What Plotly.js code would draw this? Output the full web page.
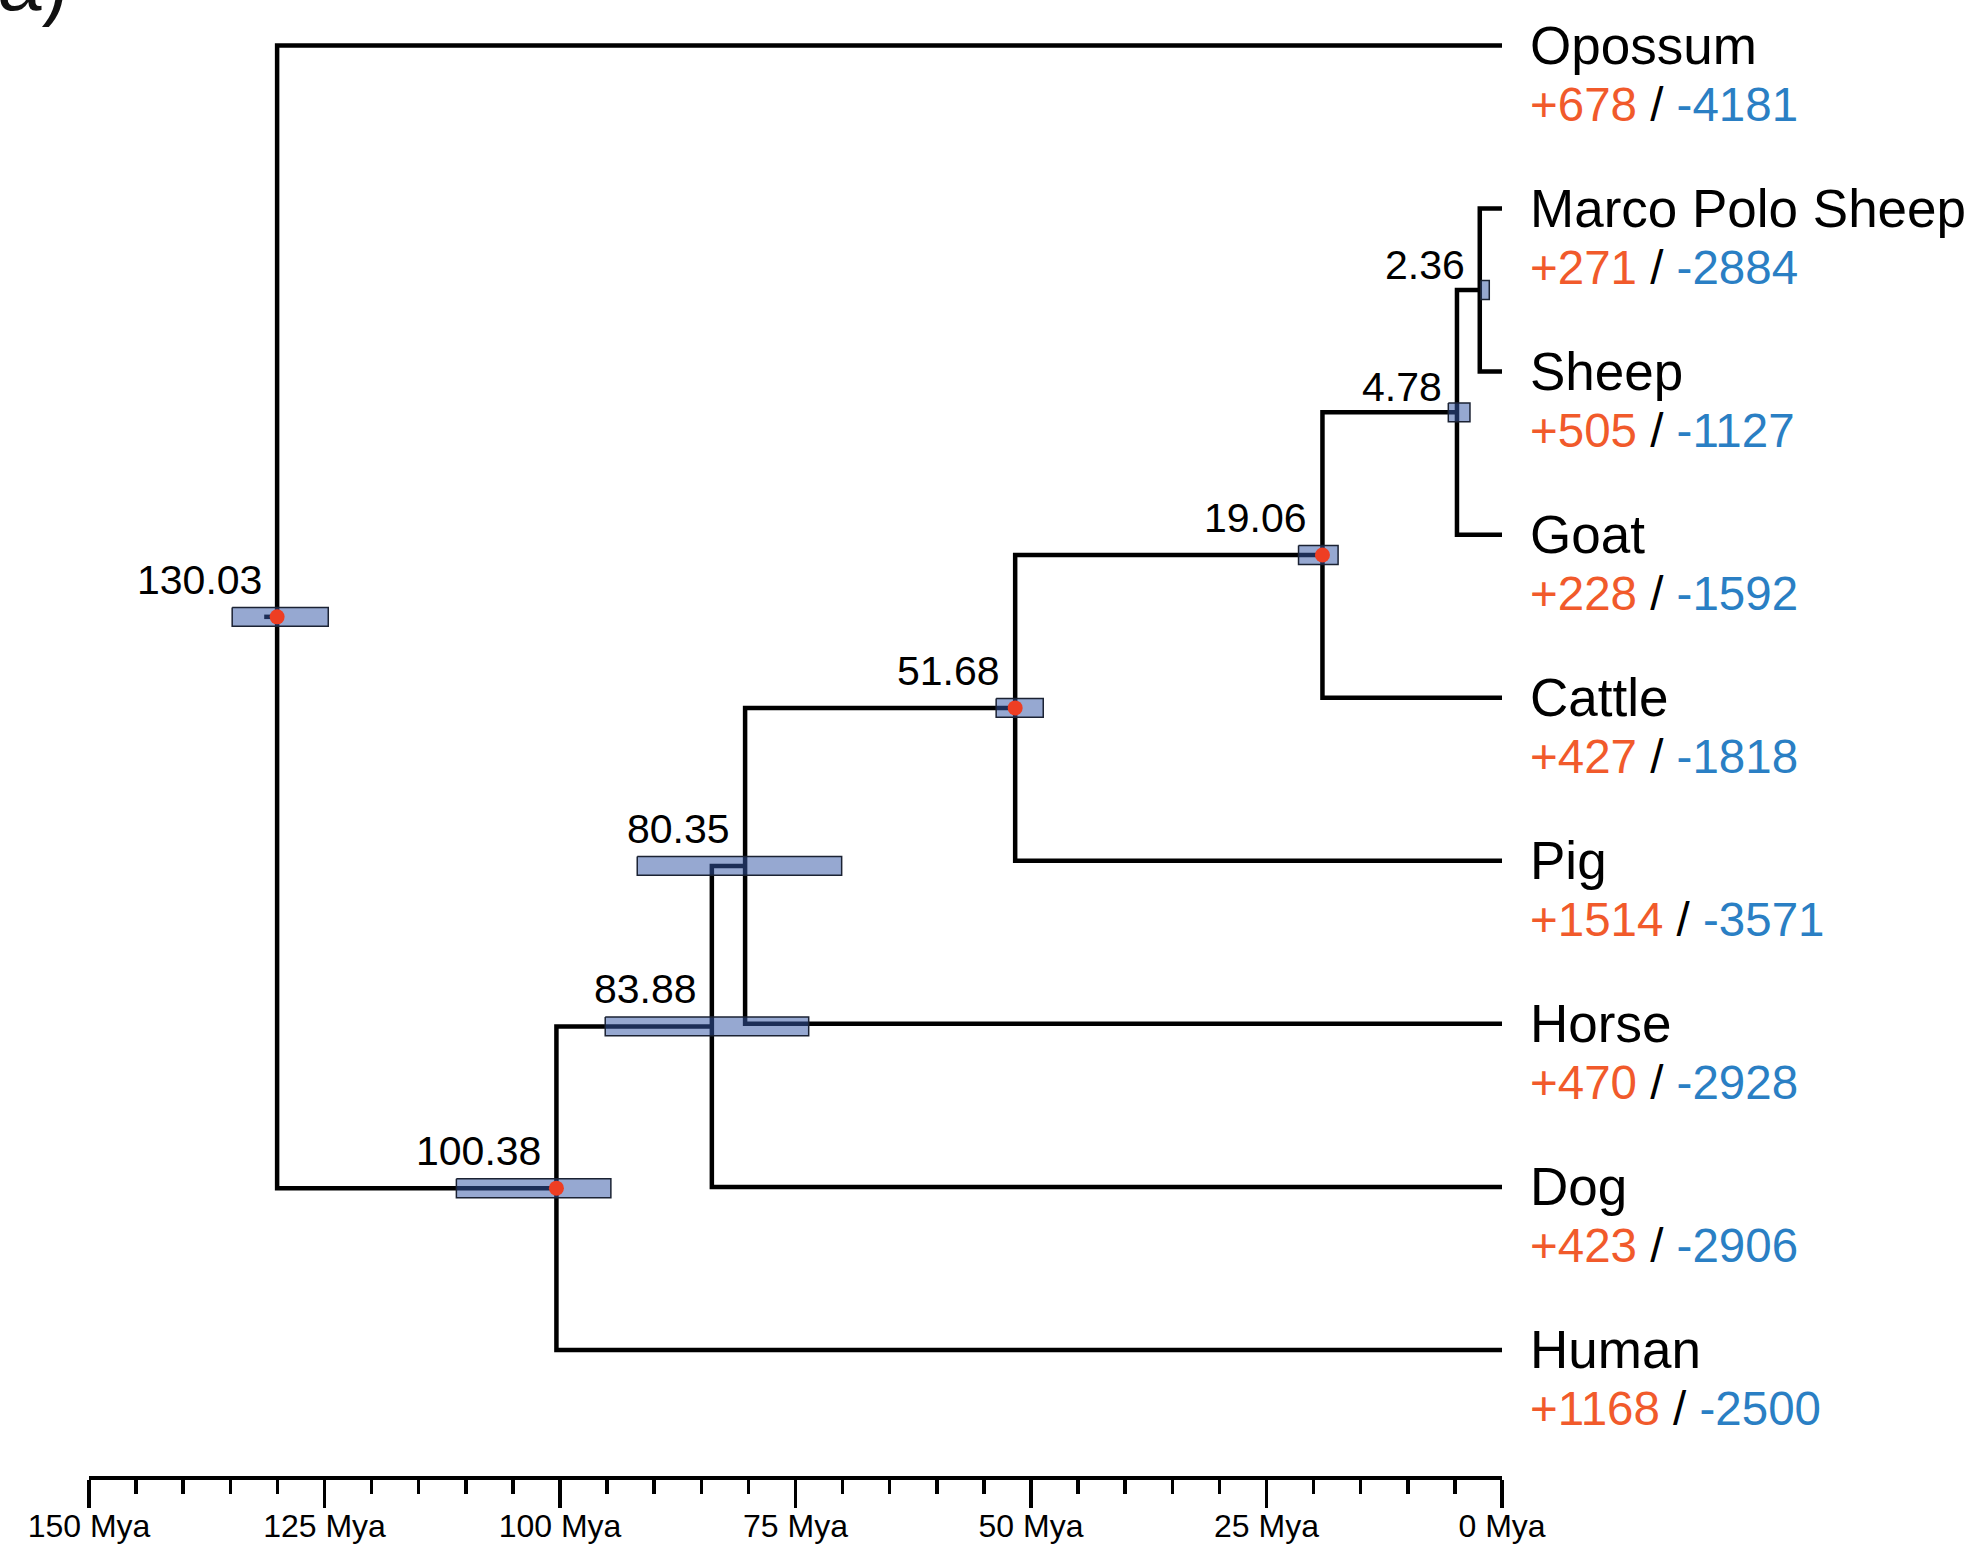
<!DOCTYPE html>
<html><head><meta charset="utf-8">
<script src="https://cdn.plot.ly/plotly-3.0.1.min.js"></script>
<style>html,body{margin:0;padding:0;background:#fff}</style>
</head><body><div id="chart" style="width:1978px;height:1546px"></div>
<script>
// ---- data ----
const tipNames = ["Opossum","Marco Polo Sheep","Sheep","Goat","Cattle","Pig","Horse","Dog","Human"];
const tipGains = [678,271,505,228,427,1514,470,423,1168];
const tipLosses = [4181,2884,1127,1592,1818,3571,2928,2906,2500];
const nodeAges = [130.03,100.38,83.88,80.35,51.68,19.06,4.78,2.36];
const nodeHpdOld = [134.8,111.0,95.2,91.8,53.7,21.6,5.7,2.26];
const nodeHpdYoung = [124.6,94.6,73.6,70.1,48.7,17.4,3.4,1.35];
const nodeHasDot = [true,true,false,false,true,true,false,false];
const nodeChildren = [["t0","n1"],["n2","t8"],["n3","t7"],["n4","t6"],["n5","t5"],["n6","t4"],["n7","t3"],["t1","t2"]];
const rootStubAge = 131.4;
const axisTickVals = [150,125,100,75,50,25,0];
const axisTickText = ["150 Mya","125 Mya","100 Mya","75 Mya","50 Mya","25 Mya","0 Mya"];

// ---- layout helpers ----
const nodeY = new Array(nodeAges.length);
function yOf(id){
  const k = +id.slice(1);
  if (id[0]==='t') return k;
  if (nodeY[k]===undefined){
    const c = nodeChildren[k];
    nodeY[k] = (yOf(c[0]) + yOf(c[1]))/2;
  }
  return nodeY[k];
}
function ageOf(id){ const k=+id.slice(1); return id[0]==='t' ? 0 : nodeAges[k]; }
nodeAges.forEach((_,k)=>yOf('n'+k));

const lx=[], ly=[];
nodeChildren.forEach((c,k)=>{
  const a=nodeAges[k];
  lx.push(ageOf(c[0]), a, a, ageOf(c[1]), null);
  ly.push(yOf(c[0]), yOf(c[0]), yOf(c[1]), yOf(c[1]), null);
});
lx.push(rootStubAge, nodeAges[0], null); ly.push(nodeY[0], nodeY[0], null);

const barHalf = 0.058;
const bx=[], by=[];
nodeAges.forEach((a,k)=>{
  const y=nodeY[k], o=nodeHpdOld[k], yg=nodeHpdYoung[k];
  bx.push(o, yg, yg, o, o, null);
  by.push(y-barHalf, y-barHalf, y+barHalf, y+barHalf, y-barHalf, null);
});

const dx=[], dy=[];
nodeAges.forEach((a,k)=>{ if(nodeHasDot[k]){ dx.push(a); dy.push(nodeY[k]); }});

const traces = [
  {type:'scatter', mode:'lines', x:lx, y:ly, line:{color:'#000', width:4.5}, hoverinfo:'skip', cliponaxis:false, showlegend:false},
  {type:'scatter', mode:'lines', x:bx, y:by, fill:'toself', fillcolor:'rgba(53,88,167,0.52)', line:{color:'#1b2233', width:1.5}, hoverinfo:'skip', cliponaxis:false, showlegend:false},
  {type:'scatter', mode:'markers', x:dx, y:dy, marker:{color:'#ee3e23', size:15, line:{width:0}}, hoverinfo:'skip', cliponaxis:false, showlegend:false}
];

const ann = [];
tipNames.forEach((n,i)=>{
  ann.push({x:0, y:i, xref:'x', yref:'y', text:n, showarrow:false, xanchor:'left', yanchor:'middle', xshift:26,
    font:{family:'Liberation Sans, Arial, sans-serif', size:53, color:'#000'}});
  ann.push({x:0, y:i, xref:'x', yref:'y', showarrow:false, xanchor:'left', yanchor:'middle', xshift:26, yshift:-59,
    text:'<span style="color:#f15a2b">+'+tipGains[i]+'</span> / <span style="color:#2a7fc4">-'+tipLosses[i]+'</span>',
    font:{family:'Liberation Sans, Arial, sans-serif', size:47.5, color:'#000'}});
});
nodeAges.forEach((a,k)=>{
  ann.push({x:a, y:nodeY[k], xref:'x', yref:'y', text:a.toFixed(2), showarrow:false, xanchor:'right', yanchor:'middle',
    xshift:-13, yshift:(a<10?25:37), font:{family:'Liberation Sans, Arial, sans-serif', size:41, color:'#000'}});
});
ann.push({x:0, y:1, xref:'paper', yref:'paper', text:'a)', showarrow:false, xanchor:'left', yanchor:'middle',
  xshift:-94, yshift:18, font:{family:'Liberation Sans, Arial, sans-serif', size:80, color:'#111'}});

const layout = {
  width:1978, height:1546,
  margin:{l:89, r:476, t:0, b:70, pad:0},
  paper_bgcolor:'#fff', plot_bgcolor:'#fff',
  showlegend:false,
  xaxis:{range:[150,0], autorange:false, showgrid:false, zeroline:false, showline:true, linecolor:'#000', linewidth:4,
    ticks:'outside', ticklen:28, tickwidth:3.5, tickcolor:'#000',
    tickmode:'array', tickvals:axisTickVals, ticktext:axisTickText, ticklabelstandoff:-9,
    tickfont:{family:'Liberation Sans Narrow, Arial Narrow, Liberation Sans, sans-serif', size:32, color:'#000'},
    minor:{tickmode:'linear', tick0:0, dtick:5, ticks:'outside', ticklen:14, tickwidth:3.5, tickcolor:'#000', showgrid:false},
    fixedrange:true},
  yaxis:{range:[8.773,-0.279], autorange:false, visible:false, showgrid:false, zeroline:false, fixedrange:true},
  annotations:ann
};
Plotly.newPlot('chart', traces, layout, {displayModeBar:false, staticPlot:true});
</script></body></html>
